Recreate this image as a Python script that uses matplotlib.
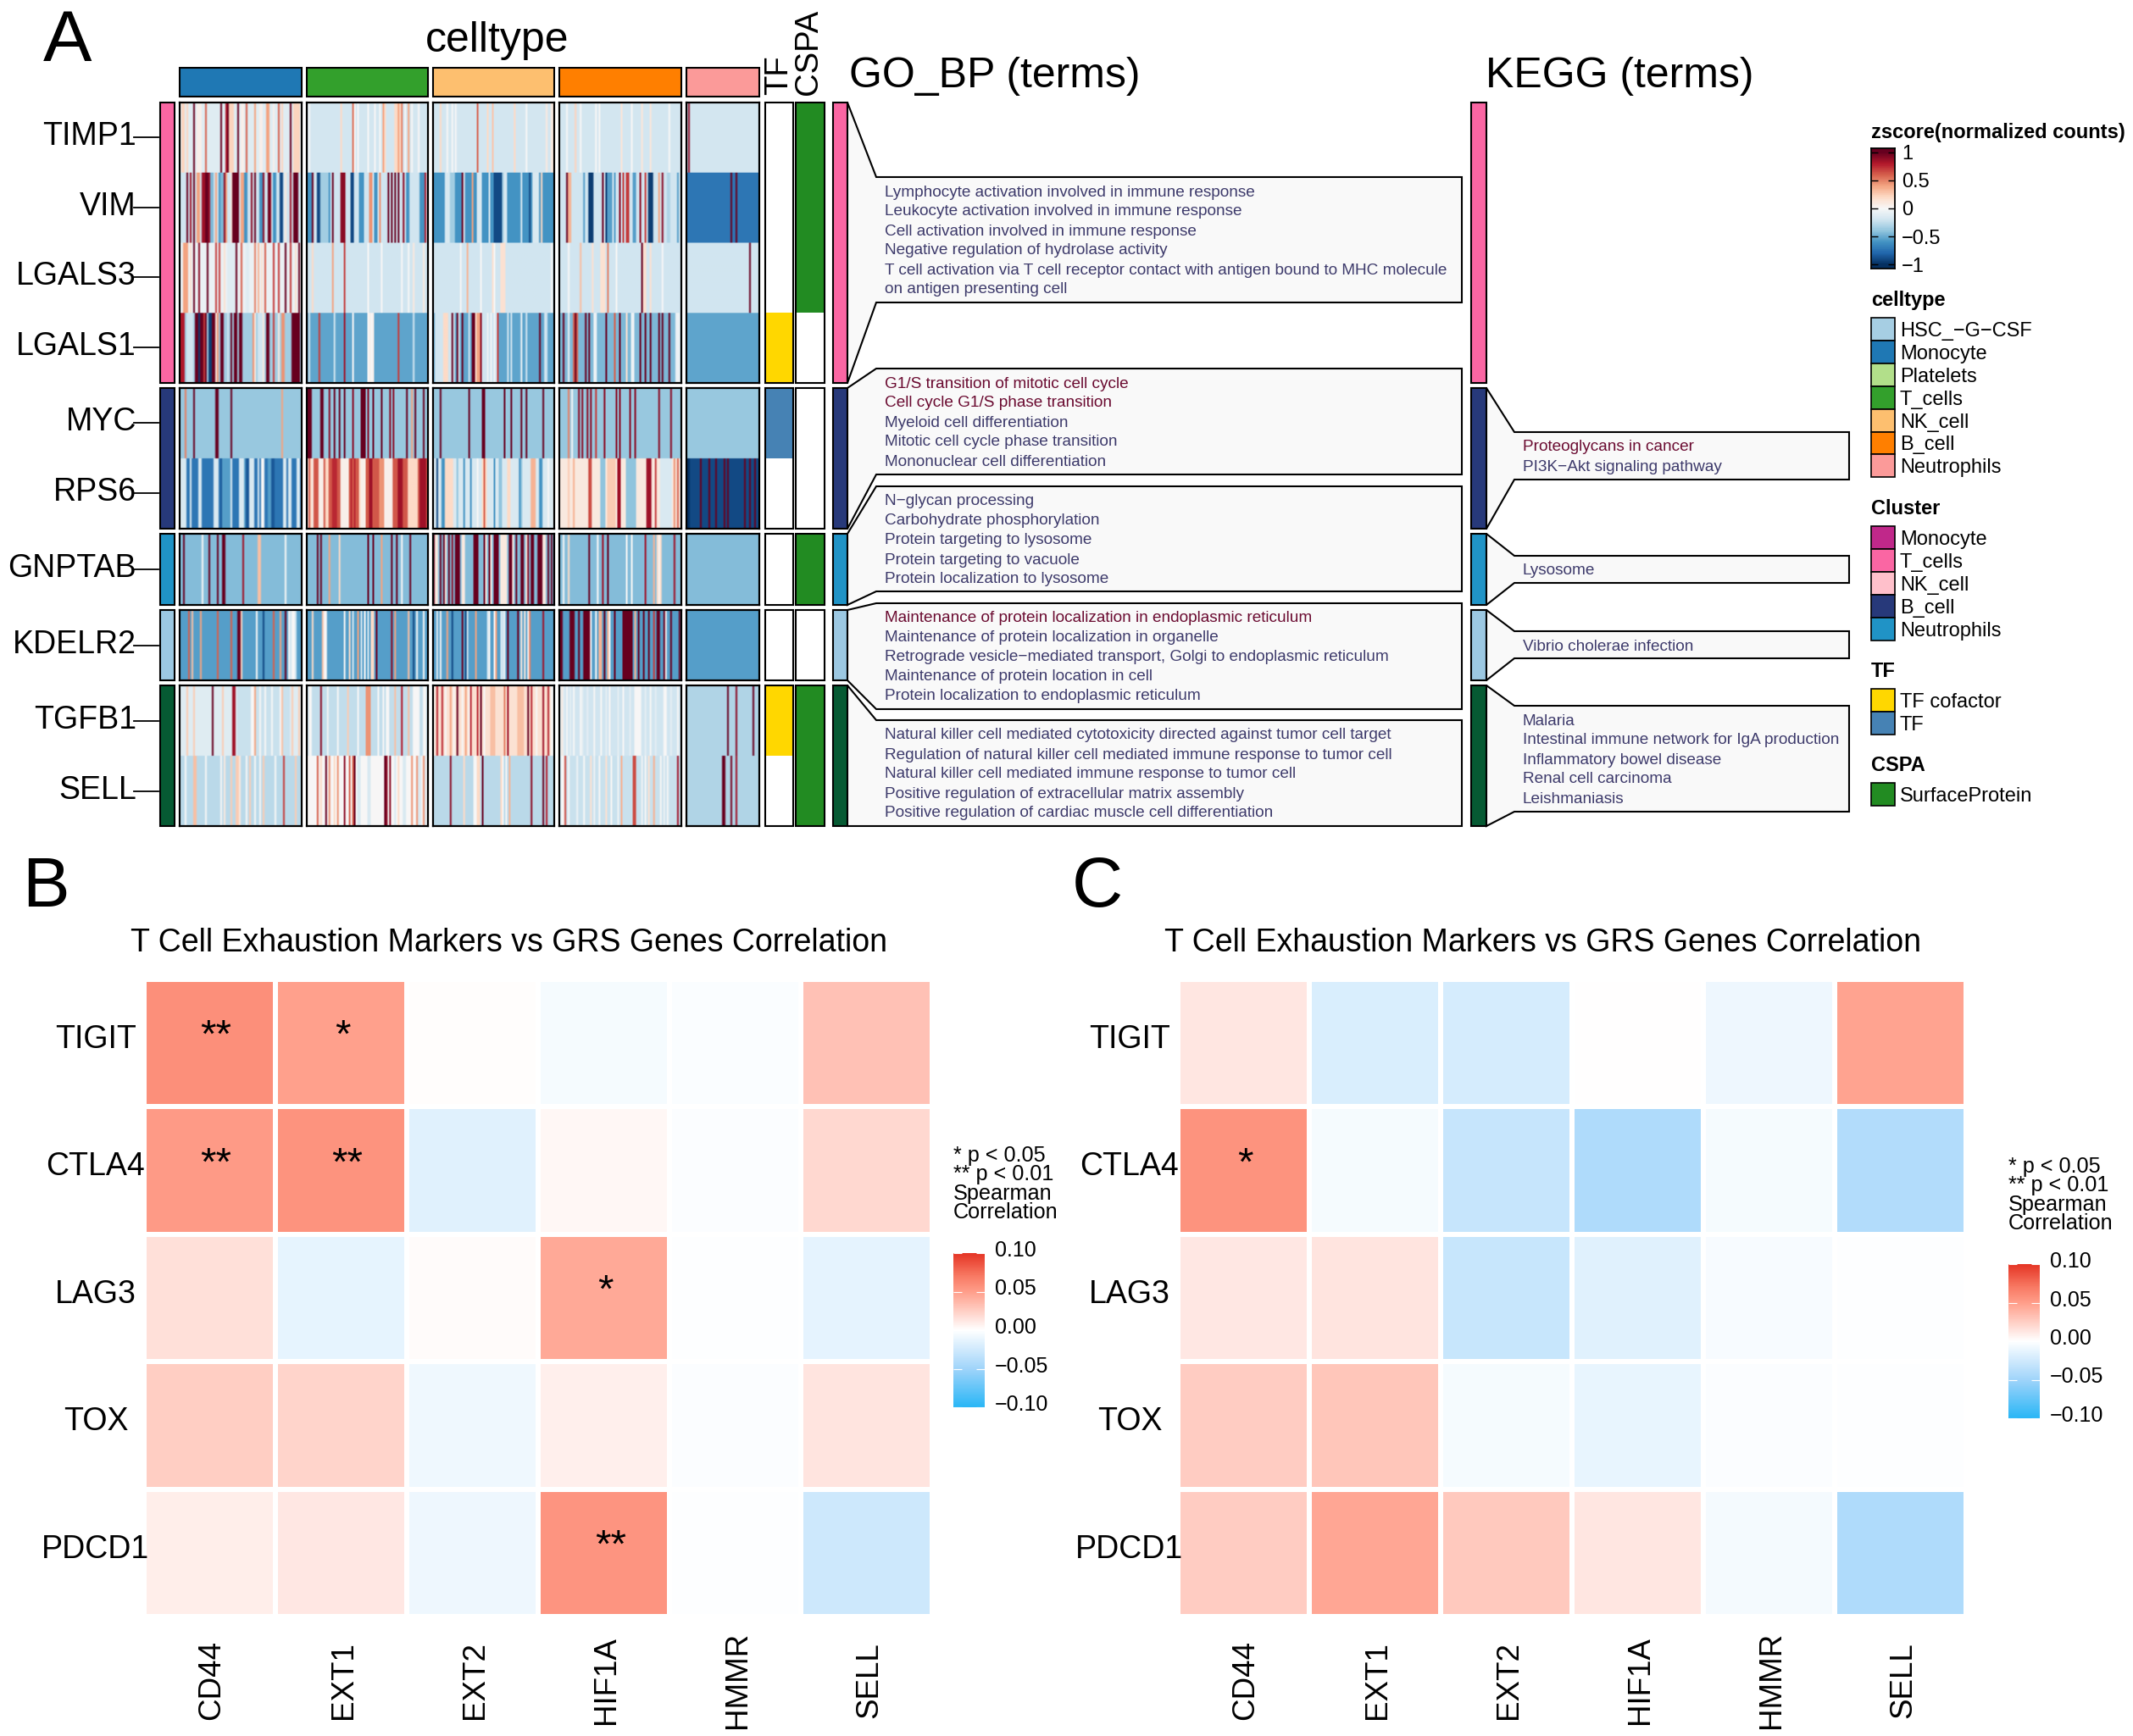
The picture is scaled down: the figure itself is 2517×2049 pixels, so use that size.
import numpy as np
import matplotlib
matplotlib.use("Agg")
import matplotlib.pyplot as plt
from matplotlib.colors import LinearSegmentedColormap, Normalize
from matplotlib.cm import ScalarMappable

plt.rcParams["font.family"] = ["Liberation Sans", "DejaVu Sans"]

W, H = 2517, 2049

# panel A: stripes per gene, one dict per cell type block, {zscore level: column numbers}
genes = ["TIMP1", "VIM", "LGALS3", "LGALS1", "MYC", "RPS6", "GNPTAB", "KDELR2", "TGFB1", "SELL"]
n_cols = [72, 72, 72, 72, 43]

TIMP1_base = [-0.12, -0.18, -0.18, -0.18, -0.18]
TIMP1_marks = [
    {1.0: [8, 24, 28, 34, 65], 0.8: [27], 0.6: [15, 39, 58], 0.4: [44, 51, 52],
     0.22: [1, 2, 4, 29, 30, 31, 60, 67, 68, 69, 70], 0.05: [36, 37, 47, 48, 55, 10, 11, 12]},
    {0.55: [27], 0.4: [45, 54, 60], 0.5: [56], 0.2: [20, 46, 52, 53, 55],
     0.0: [1, 28, 30, 36, 40, 43, 58, 62, 66]},
    {0.6: [26], 0.2: [4, 32, 48], 0.28: [35], 0.1: [67, 70, 71], 0.0: [8, 11, 13, 55]},
    {0.22: [9], 0.12: [36, 48, 53], 0.0: [4, 12, 21, 23, 42, 64]},
    {0.9: [1]},
]

VIM_base = [-0.2, -0.2, -0.6, -0.2, -0.72]
VIM_marks = [
    {1.0: [4, 8, 15, 16, 31, 32, 33, 34, 44, 52, 67, 68, 69], 0.85: [6, 13, 14, 17, 65], 0.4: [10, 11, 21, 27, 36, 37],
     -0.45: [18, 19, 24, 25], -0.6: [23, 38, 39, 47, 48, 55, 56], 0.9: [26, 42, 49, 53], -0.9: [59, 60], 0.1: [30, 62]},
    {-0.6: [0, 1, 2, 13, 31, 32, 33, 40, 41, 59, 60, 67, 68, 69], 1.0: [3, 15, 48, 50, 52, 54], -0.9: [6, 7, 26, 27],
     -0.35: [8, 9, 10, 11, 12], 0.9: [20, 21, 22, 57], 0.45: [37, 38, 43], 0.8: [70]},
    {-0.15: [7, 8, 9, 18, 26, 27, 28, 33, 42, 43, 52, 59, 60, 61, 62],  -0.35: [10, 11, 12, 41], 1.0: [17], 0.4: [23],
     -0.9: [36, 37, 38, 39, 40, 57], 0.2: [64]},
    {1.0: [4, 25], 0.35: [5, 6], -0.55: [14, 28, 29, 30, 32, 43, 44, 69], -0.95: [17, 18, 19, 27, 52, 53, 54], 0.9: [35, 47, 60],
     0.7: [37, 39, 40, 50], 0.4: [58], -0.3: [63, 64]},
    {1.0: [26, 29]},
]

LGALS3_base = [-0.06, -0.2, -0.2, -0.2, -0.2]
LGALS3_marks = [
    {0.4: [2, 3, 4], 1.0: [8, 16, 33, 62, 70], 0.9: [11], 0.7: [21, 23, 55, 65, 58], 0.6: [36, 50],
     0.5: [44], 0.35: [46], -0.12: [28, 29, 30, 31, 32, 39, 40], 0.15: [6, 26, 48, 68]},
    {0.2: [3], 0.4: [15], 0.7: [22], 0.0: [36, 44, 56, 60], 0.1: [63, 69]},
    {0.35: [20], 0.0: [16, 28, 36, 70], 0.15: [40, 41, 42, 35]},
    {0.3: [12], 0.15: [19, 24, 25, 26, 49, 50, 53], 0.5: [28], 1.0: [48], 0.0: [5, 33, 60]},
    {1.0: [37]},
]

LGALS1_base = [-0.35, -0.53, -0.53, -0.45, -0.53]
LGALS1_marks = [
    {0.8: [0, 1, 2], -0.2: [4, 5, 6, 7, 28, 46, 47, 48], 1.0: [9, 10, 12, 13, 15, 19, 20, 24, 25, 30, 32, 33, 35, 36, 51, 52, 66, 67, 68, 69, 70],
     0.45: [22, 43, 60, 61], 0.7: [14, 55], -0.95: [11, 17, 18], 0.1: [21, 44, 49, 58]},
    {0.7: [7, 54], -0.2: [1, 16, 63], 0.85: [22], 0.0: [27, 36, 38], 0.05: [37, 39]},
    {-0.2: [1, 2, 3, 4, 5, 9, 10, 12, 15, 21, 29, 30, 31, 33, 35, 37, 44, 46, 55, 66, 67],
     0.2: [6, 7, 8, 25], 1.0: [11, 14, 17, 23, 24, 63], 0.9: [28], 0.4: [26, 27], 0.7: [38], -0.05: [32, 34, 36, 52]},
    {-0.05: [5, 20, 21, 42, 43, 68, 69, 70], 1.0: [2, 9, 15, 17, 27, 35, 47, 50, 53, 58, 60, 64], 0.6: [8, 10, 32], 0.15: [39]},
    {},
]

MYC_base = [-0.38, -0.38, -0.38, -0.38, -0.38]
MYC_marks = [
    {0.5: [3], 1.0: [8, 21, 22, 30], 0.4: [60]},
    {1.0: [0, 1, 2, 8, 9, 16, 19, 22, 32, 33, 34, 39, 44, 59, 64, 69], 0.9: [13, 27, 36, 49, 51], 0.4: [62]},
    {1.0: [4, 21, 29, 30, 42, 46, 52, 55, 65]},
    {0.5: [5], 0.9: [11, 13, 16, 18, 26, 33, 35, 41, 44, 58, 65], 0.7: [21], 0.0: [7]},
    {},
]

RPS6_base = [-0.72, 0.62, -0.15, 0.1, -0.9]
RPS6_marks = [
    {-0.15: [0, 1, 2, 3, 6, 11, 12, 20, 21, 22, 30, 35, 36, 37, 41, 42, 43, 46, 61, 62, 64, 65, 69, 70], 0.0: [48, 49],
     -0.55: [25, 26, 27, 28, 29, 38, 52, 53], -0.85: [24, 39, 40, 54, 55]},
    {0.05: [0, 3, 7, 8, 9, 20, 21, 22, 23, 24, 32, 33, 34, 46, 47, 48, 49, 50], 0.2: [2, 11, 12, 31, 60, 61, 62, 63, 64, 65], 0.85: [37, 38, 54, 55, 56, 67, 68, 69, 70],
     0.75: [15, 16, 17, 26, 28], 0.45: [43, 44, 45]},
    {-0.9: [2], -0.6: [5, 6, 18, 22, 36, 51, 63, 64], 0.2: [7, 8, 9, 10, 11, 29, 30, 31, 44, 45], 0.0: [26, 68], 0.35: [58, 59, 60], 0.6: [30],
     -0.4: [14, 39, 40, 52]},
    {0.65: [17, 18], -0.4: [24, 25, 26, 39, 40, 41, 42, 43, 44], 0.25: [5, 28, 29, 30, 31, 32], 0.85: [34, 35, 51, 52, 53], 0.7: [56], -0.15: [59, 60, 61, 62, 63, 64, 65],
     0.45: [67], 0.6: [69], 0.35: [8]},
    {-1.0: [0, 1], 1.0: [8, 13, 17, 22, 24, 34, 37, 40]},
]

GNPTAB_base = [-0.43, -0.43, -0.43, -0.43, -0.43]
GNPTAB_marks = [
    {1.0: [2, 17, 22, 25, 26], 0.0: [13, 62], 0.85: [37], 0.3: [46, 47]},
    {1.0: [6, 8, 36, 39, 50, 53, 61], 0.4: [13, 44], 0.2: [19], 0.0: [56]},
    {1.0: [0, 4, 6, 9, 13, 14, 15, 24, 25, 26, 30, 33, 36, 37, 38, 45, 46, 49, 52, 53, 58, 59, 62, 63, 64, 68, 70],
     0.1: [1, 2, 7, 17, 18, 31, 34, 40, 41, 42, 43, 47, 55, 65, 66], 0.9: [11, 56]},
    {0.2: [5, 57, 59], 1.0: [17, 28], 0.85: [25, 50, 67], 0.0: [2, 22, 39, 42, 58], 0.35: [55]},
    {},
]

KDELR2_base = [-0.55, -0.55, -0.55, -0.55, -0.55]
KDELR2_marks = [
    {0.6: [5, 22, 30, 55], 0.3: [7], 0.4: [12, 59], 1.0: [34, 35, 62], -0.9: [49], 0.2: [36], 0.0: [45, 64, 66, 67], -0.2: [65, 68]},
    {0.2: [3, 25, 38, 39], 0.3: [9, 60], 0.0: [10, 11, 22, 34, 65, 69], -0.2: [27, 32, 36], 0.4: [30, 52], 1.0: [41], 0.9: [50], -0.9: [63]},
    {-0.1: [2, 42], 0.0: [4, 33, 36, 56], 0.4: [8, 25, 37], -0.9: [11, 19], 1.0: [17, 44, 50], -0.2: [20, 40, 41, 32], 0.5: [57], 0.85: [65], 0.1: [52, 54]},
    {1.0: [0, 1, 6, 7, 8, 11, 14, 15, 16, 17, 26, 32, 37, 38, 39, 40, 41, 42, 46, 49, 52, 57, 58, 61, 65, 70],
     0.0: [18, 21, 29, 62], 0.35: [23, 24, 44, 28], 0.7: [55]},
    {},
]

TGFB1_base = [-0.12, -0.25, 0.15, -0.2, -0.3]
TGFB1_marks = [
    {0.25: [4, 8, 25, 66, 70], 1.0: [19], 0.85: [31, 32], 0.4: [44], 0.3: [60],
     -0.22: [34, 35, 36, 37, 38, 39, 40, 41, 45, 46, 48, 49, 51, 52, 53, 55, 56, 57, 58, 61, 62, 63, 64], 0.0: [42, 43, 47, 50, 54, 59]},
    {0.9: [8], 0.45: [35, 36, 37], 0.25: [24], 0.3: [52, 60], 0.8: [56], 0.0: [1, 2, 12, 18, 30, 42, 45, 47, 48, 63, 64, 65, 66, 69, 70]},
    {0.75: [2, 5, 22, 26, 58, 68], 0.4: [10, 19], 1.0: [14, 28, 56], 0.5: [42], 0.85: [44, 65], 0.3: [34, 35, 36, 50, 51, 52, 53], 0.0: [0, 7, 12, 17, 21, 30, 61, 70, 71]},
    {0.1: [1], 0.0: [4, 8, 12, 20, 24, 29, 37, 44, 45, 46, 47, 53, 61, 62, 69], -0.1: [2, 6, 13, 16, 27, 34, 41, 50, 56, 65]},
    {1.0: [24, 39], 0.9: [29]},
]

SELL_base = [-0.27, 0.0, -0.27, -0.22, -0.3]
SELL_marks = [
    {0.3: [8, 9], 0.0: [3, 15, 24, 39, 44, 47, 56], 0.25: [30, 33, 34, 41, 49, 68], 0.7: [61], 0.1: [26, 35]},
    {0.6: [6, 25, 27], 0.2: [8, 16, 54], 1.0: [11, 28, 46], 0.45: [13, 18, 62, 65, 69], 0.9: [22, 47, 49], -0.15: [30, 31, 36, 37, 52, 57, 58, 66, 67, 70]},
    {0.9: [10, 58], 1.0: [29, 65], 0.35: [45], 0.2: [18, 26, 27, 40], 0.0: [24, 25, 41, 43], 0.8: [67]},
    {0.65: [3, 43, 44], 0.35: [36, 55], 0.85: [69], 0.0: [1, 2, 5, 14, 23, 30, 50, 59, 63], -0.05: [10, 20, 34, 48, 61], 0.15: [18, 27, 52]},
    {1.0: [21, 22], 0.95: [26], 0.85: [29]},
]

gene_base = [TIMP1_base, VIM_base, LGALS3_base, LGALS1_base, MYC_base, RPS6_base, GNPTAB_base, KDELR2_base, TGFB1_base, SELL_base]
gene_marks = [TIMP1_marks, VIM_marks, LGALS3_marks, LGALS1_marks, MYC_marks, RPS6_marks, GNPTAB_marks, KDELR2_marks, TGFB1_marks, SELL_marks]

celltype_names = ["HSC_−G−CSF", "Monocyte", "Platelets", "T_cells", "NK_cell", "B_cell", "Neutrophils"]
celltype_colors = ["#A6CEE3", "#1F78B4", "#B2DF8A", "#33A02C", "#FDBF6F", "#FF7F00", "#FB9A99"]
strip_colors = ["#1F78B4", "#33A02C", "#FDBF6F", "#FF7F00", "#FB9A99"]
cluster_names = ["Monocyte", "T_cells", "NK_cell", "B_cell", "Neutrophils"]
cluster_colors = ["#C0288A", "#FA66A3", "#FFC0CB", "#27397A", "#2093C6"]
block_colors = ["#FA66A3", "#27397A", "#2093C6", "#9CC8E2", "#065A33"]
tf_names = ["TF cofactor", "TF"]
tf_colors = ["#FFD700", "#4682B4"]
cspa_color = "#228B22"

go_terms = [
    ["Lymphocyte activation involved in immune response", "Leukocyte activation involved in immune response",
     "Cell activation involved in immune response", "Negative regulation of hydrolase activity",
     "T cell activation via T cell receptor contact with antigen bound to MHC molecule", "on antigen presenting cell"],
    ["G1/S transition of mitotic cell cycle", "Cell cycle G1/S phase transition", "Myeloid cell differentiation",
     "Mitotic cell cycle phase transition", "Mononuclear cell differentiation"],
    ["N−glycan processing", "Carbohydrate phosphorylation", "Protein targeting to lysosome",
     "Protein targeting to vacuole", "Protein localization to lysosome"],
    ["Maintenance of protein localization in endoplasmic reticulum", "Maintenance of protein localization in organelle",
     "Retrograde vesicle−mediated transport, Golgi to endoplasmic reticulum", "Maintenance of protein location in cell",
     "Protein localization to endoplasmic reticulum"],
    ["Natural killer cell mediated cytotoxicity directed against tumor cell target",
     "Regulation of natural killer cell mediated immune response to tumor cell",
     "Natural killer cell mediated immune response to tumor cell", "Positive regulation of extracellular matrix assembly",
     "Positive regulation of cardiac muscle cell differentiation"],
]
go_red = ["G1/S transition of mitotic cell cycle", "Cell cycle G1/S phase transition",
          "Maintenance of protein localization in endoplasmic reticulum", "Proteoglycans in cancer"]
kegg_terms = [
    ["Proteoglycans in cancer", "PI3K−Akt signaling pathway"],
    ["Lysosome"],
    ["Vibrio cholerae infection"],
    ["Malaria", "Intestinal immune network for IgA production", "Inflammatory bowel disease", "Renal cell carcinoma", "Leishmaniasis"],
]

# panels B and C
markers = ["TIGIT", "CTLA4", "LAG3", "TOX", "PDCD1"]
grs_genes = ["CD44", "EXT1", "EXT2", "HIF1A", "HMMR", "SELL"]
corr_b = [
    [0.058, 0.049, 0.001, -0.005, -0.003, 0.032],
    [0.052, 0.056, -0.016, 0.004, -0.002, 0.020],
    [0.016, -0.013, 0.002, 0.044, -0.001, -0.014],
    [0.025, 0.022, -0.008, 0.008, -0.002, 0.014],
    [0.009, 0.012, -0.009, 0.055, -0.001, -0.026],
]
stars_b = [["**", "*", "", "", "", ""], ["**", "**", "", "", "", ""], ["", "", "", "*", "", ""],
           ["", "", "", "", "", ""], ["", "", "", "**", "", ""]]
corr_c = [
    [0.013, -0.020, -0.022, 0.000, -0.009, 0.047],
    [0.056, -0.005, -0.030, -0.042, -0.005, -0.040],
    [0.012, 0.014, -0.029, -0.016, -0.004, -0.001],
    [0.026, 0.029, -0.005, -0.012, -0.002, -0.001],
    [0.026, 0.046, 0.028, 0.013, -0.006, -0.042],
]
stars_c = [["", "", "", "", "", ""], ["*", "", "", "", "", ""], ["", "", "", "", "", ""],
           ["", "", "", "", "", ""], ["", "", "", "", "", ""]]
corr_ticks = [-0.10, -0.05, 0.00, 0.05, 0.10]
corr_tick_labels = ["−0.10", "−0.05", "0.00", "0.05", "0.10"]

fig = plt.figure(figsize=(W / 100, H / 100), dpi=100)
bg = fig.add_axes([0, 0, 1, 1])
bg.set_xlim(0, W)
bg.set_ylim(H, 0)
bg.axis("off")
bg.set_zorder(10)


def px_axes(x0, y0, x1, y1):
    return fig.add_axes([x0 / W, 1 - y1 / H, (x1 - x0) / W, (y1 - y0) / H])


def box(x0, y0, x1, y1, color, lw=1.5):
    bg.fill([x0, x1, x1, x0], [y0, y0, y1, y1], facecolor=color, edgecolor="black", linewidth=lw)


def txt(x, y, s, size, **kw):
    kw.setdefault("va", "baseline")
    kw.setdefault("ha", "left")
    bg.text(x, y, s, fontsize=size, **kw)


# --- panel A ---
txt(51, 72, "A", 62)
txt(587, 61, "celltype", 36, ha="center")
txt(937, 112, "TF", 27.5, rotation=90, ha="left", va="bottom", rotation_mode="anchor")
txt(972, 112, "CSPA", 27.5, rotation=90, ha="left", va="bottom", rotation_mode="anchor")
txt(1002, 103, "GO_BP (terms)", 36)
txt(1753, 103, "KEGG (terms)", 36)

panel_x = [(212, 356), (362, 505), (511, 654), (660, 804), (810, 896)]
block_y = [(121, 452), (458, 624), (630, 714), (720, 803), (809, 975)]
block_genes = [[0, 1, 2, 3], [4, 5], [6], [7], [8, 9]]
tick_y = [162, 245, 327, 410, 499, 582, 672, 762, 851, 934]

for (x0, x1), c in zip(panel_x, strip_colors):
    box(x0, 80, x1, 114, c)

for b, (y0, y1) in enumerate(block_y):
    for p, (x0, x1) in enumerate(panel_x):
        mat = []
        for g in block_genes[b]:
            row = np.full(n_cols[p], gene_base[g][p], dtype=float)
            for level, cols in gene_marks[g][p].items():
                row[cols] = level
            mat.append(row)
        ax = px_axes(x0, y0, x1, y1)
        # rows repeated so the soft column edges do not smear between genes
        ax.imshow(np.repeat(np.array(mat), 60, axis=0), cmap="RdBu_r", vmin=-1, vmax=1, aspect="auto",
                  interpolation="bilinear", interpolation_stage="rgba")
        ax.set_xticks([])
        ax.set_yticks([])
        for s in ax.spines.values():
            s.set_linewidth(1.6)
    box(189, y0, 206, y1, block_colors[b])
    box(983, y0, 1000, y1, block_colors[b])
    box(1736, y0, 1754, y1, block_colors[b])

for g, y in zip(genes, tick_y):
    bg.plot([158, 187], [y, y], color="black", lw=1.3)
    txt(161, y + 9, g, 27, ha="right")

# TF and CSPA annotation columns
tf_cells = [(121, 369, "white"), (369, 452, tf_colors[0]), (458, 541, tf_colors[1]), (541, 624, "white"), (630, 714, "white"),
            (720, 803, "white"), (809, 892, tf_colors[0]), (892, 975, "white")]
cspa_cells = [(121, 369, cspa_color), (369, 452, "white"), (458, 624, "white"), (630, 714, cspa_color),
              (720, 803, "white"), (809, 975, cspa_color)]
for y0, y1, c in tf_cells:
    bg.fill([903, 936, 936, 903], [y0, y0, y1, y1], color=c, linewidth=0)
for y0, y1, c in cspa_cells:
    bg.fill([939, 973, 973, 939], [y0, y0, y1, y1], color=c, linewidth=0)
for (y0, y1) in block_y:
    bg.fill([903, 936, 936, 903], [y0, y0, y1, y1], fill=False, edgecolor="black", linewidth=1.5)
    bg.fill([939, 973, 973, 939], [y0, y0, y1, y1], fill=False, edgecolor="black", linewidth=1.5)


def term_box(bar_x, x0, x1, y_top, y_bot, by0, by1, terms, ys, size, pad):
    bg.fill([bar_x, x0, x1, x1, x0, bar_x], [by0, y_top, y_top, y_bot, y_bot, by1], facecolor="#F9F9F9", edgecolor="black", linewidth=1.5)
    for t, y in zip(terms, ys):
        col = "#6A0A30" if t in go_red else "#3D3A6B"
        txt(x0 + pad, y - 1, t, size, color=col, va="center_baseline")


go_boxes = [(209, 357), (435, 560), (574, 698), (712, 837), (850, 975)]
go_text_y = [[226, 249, 272, 295, 318, 341], [452, 475, 498, 521, 544], [590.5, 613.5, 636.6, 660, 683],
             [728.6, 751.6, 774.7, 797.8, 821], [867, 890, 913, 936, 959]]
for i in range(5):
    term_box(1000, 1034, 1725, go_boxes[i][0], go_boxes[i][1], block_y[i][0], block_y[i][1], go_terms[i], go_text_y[i], 13.65, 10)

kegg_boxes = [(510, 566), (656, 688), (745, 777), (833, 958)]
kegg_text_y = [[527, 550], [672], [762], [850, 873, 896, 919, 942]]
for i in range(4):
    term_box(1754, 1787, 2182, kegg_boxes[i][0], kegg_boxes[i][1], block_y[i + 1][0], block_y[i + 1][1], kegg_terms[i], kegg_text_y[i], 13.65, 10)

# legends of panel A
txt(2208, 163, "zscore(normalized counts)", 17, fontweight="bold")
cax = px_axes(2208, 175, 2236, 317)
zgrid = np.linspace(-1.068, 1.068, 200)[:, None]
cax.pcolormesh([0, 1], np.linspace(-1.068, 1.068, 201), zgrid, cmap="RdBu_r", vmin=-1, vmax=1)
cax.set_xticks([])
cax.set_yticks([-1, -0.5, 0, 0.5, 1])
cax.set_yticklabels(["−1", "−0.5", "0", "0.5", "1"], fontsize=17)
cax.tick_params(axis="y", direction="in", left=True, right=True, labelleft=False, labelright=True, length=6, width=1, pad=6)
for s in cax.spines.values():
    s.set_linewidth(1.3)


def swatches(y0, names, colors):
    for i, (n, c) in enumerate(zip(names, colors)):
        box(2208, y0 + i * 26.9, 2236, y0 + (i + 1) * 26.9, c, lw=1.2)
        txt(2242, y0 + (i + 0.5) * 26.9, n, 17, va="center_baseline")


txt(2208, 361, "celltype", 17, fontweight="bold")
swatches(375, celltype_names, celltype_colors)
txt(2208, 607, "Cluster", 17, fontweight="bold")
swatches(621, cluster_names, cluster_colors)
txt(2208, 799, "TF", 17, fontweight="bold")
swatches(813, tf_names, tf_colors)
txt(2208, 910, "CSPA", 17, fontweight="bold")
swatches(924, ["SurfaceProtein"], [cspa_color])

# --- panels B and C ---
corr_cmap = LinearSegmentedColormap.from_list("corr", [(0, "#29B6F6"), (0.25, "#A0D4FA"), (0.5, "#FFFFFF"),
                                                       (0.75, "#FF9E8A"), (0.85, "#F87A64"), (1, "#E53525")])
corr_norm = Normalize(-0.1, 0.1)


def corr_panel(dx, dy_leg, dx_leg, values, stars, letter, letter_x):
    ax = px_axes(169.5 + dx, 1155.5, 1100 + dx, 1908)
    ax.pcolormesh(np.array(values)[::-1], cmap=corr_cmap, norm=corr_norm, edgecolors="white", linewidth=2.9)
    ax.axis("off")
    cw = (1100 - 169.5) / 6
    rh = (1908 - 1155.5) / 5
    for r in range(5):
        cy = 1155.5 + (r + 0.5) * rh
        txt(113 + dx, cy - 4, markers[r], 27, ha="center", va="center")
        for c in range(6):
            s = stars[r][c]
            if s:
                off = 8 if s == "**" else 2
                txt(169.5 + dx + (c + 0.5) * cw + off, cy + 5, s, 34, ha="center")
    for c in range(6):
        txt(169.5 + dx + (c + 0.5) * cw + 3, 1983, grs_genes[c], 26.5, rotation=90, ha="center", va="center")
    txt(letter_x, 1070, letter, 60)
    txt(600 + dx, 1123, "T Cell Exhaustion Markers vs GRS Genes Correlation", 27, ha="center")
    lx = 1125 + dx_leg
    for line, y in zip(["* p < 0.05", "** p < 0.01", "Spearman", "Correlation"], [1371, 1393, 1416, 1438]):
        txt(lx, y + dy_leg, line, 18.2)
    cb_ax = px_axes(lx, 1479 + dy_leg, lx + 37, 1661 + dy_leg)
    cb = fig.colorbar(ScalarMappable(norm=corr_norm, cmap=corr_cmap), cax=cb_ax)
    cb.set_ticks(corr_ticks)
    cb.outline.set_visible(False)
    cb_ax.tick_params(axis="y", direction="in", colors="white", length=7, width=0.8, left=True, right=True, labelright=False)
    for v, lab in zip(corr_ticks, corr_tick_labels):
        txt(lx + 49, 1567 + dy_leg - v * 910, lab, 18, va="center")


corr_panel(0, 0, 0, corr_b, stars_b, "B", 26)
corr_panel(1220, 13, 1245, corr_c, stars_c, "C", 1265)

fig.savefig("out.png", dpi=100)
